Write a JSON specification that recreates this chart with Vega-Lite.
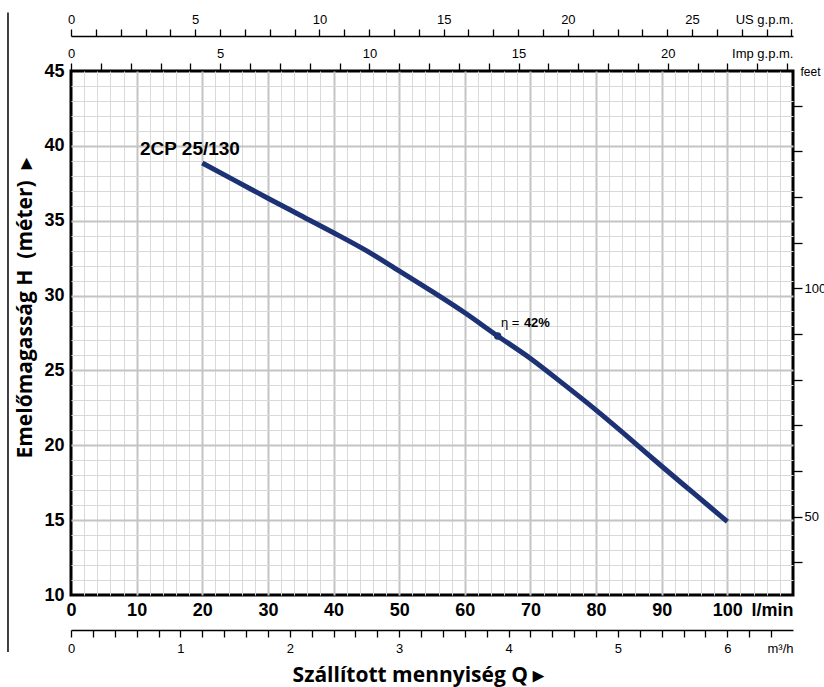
{
  "$schema": "https://vega.github.io/schema/vega-lite/v6.json",
  "width": 722,
  "height": 524,
  "autosize": {"type": "none"},
  "padding": {"left": 71, "top": 71, "right": 31, "bottom": 92},
  "background": "white",
  "config": {
    "view": {"stroke": "black", "strokeWidth": 3},
    "font": "Liberation Sans, Arial, sans-serif"
  },
  "resolve": {
    "scale": {"x": "independent", "y": "independent"},
    "axis": {"x": "independent", "y": "independent"}
  },
  "layer": [
    {
      "layer": [
        {
          "data": {"values": [
            {"q": 20, "h": 38.85}, {"q": 25, "h": 37.68}, {"q": 30, "h": 36.5},
            {"q": 35, "h": 35.35}, {"q": 40, "h": 34.2}, {"q": 45, "h": 33.0},
            {"q": 50, "h": 31.65}, {"q": 55, "h": 30.28}, {"q": 60, "h": 28.85},
            {"q": 65, "h": 27.3}, {"q": 70, "h": 25.8}, {"q": 75, "h": 24.1},
            {"q": 80, "h": 22.35}, {"q": 85, "h": 20.5}, {"q": 90, "h": 18.6},
            {"q": 95, "h": 16.75}, {"q": 100, "h": 14.9}
          ]},
          "mark": {"type": "line", "color": "#1d3275", "strokeWidth": 5, "interpolate": "monotone", "strokeCap": "butt"},
          "encoding": {
            "x": {
              "field": "q", "type": "quantitative",
              "scale": {"domain": [0, 110], "nice": false, "zero": false},
              "axis": {
                "orient": "bottom", "tickCount": 500, "tickMinStep": 0.001,
                "values": [0,2,4,6,8,10,12,14,16,18,20,22,24,26,28,30,32,34,36,38,40,42,44,46,48,50,52,54,56,58,60,62,64,66,68,70,72,74,76,78,80,82,84,86,88,90,92,94,96,98,100,102,104,106,108,110],
                "domain": false, "ticks": false, "grid": true,
                "gridColor": {"condition": {"test": "datum.value % 10 == 0", "value": "#c4c4c4"}, "value": "#d9d9d9"},
                "gridWidth": {"condition": {"test": "datum.value % 10 == 0", "value": 2}, "value": 1},
                "gridOpacity": {"condition": {"test": "datum.value == 0 || datum.value == 110", "value": 0}, "value": 1},
                "labelExpr": "datum.value == 110 ? 'l/min' : (datum.value % 10 == 0 ? format(datum.value, 'd') : '')",
                "labelAlign": {"condition": {"test": "datum.value == 110", "value": "right"}, "value": "center"},
                "labelFontWeight": "bold", "labelFontSize": 18, "labelColor": "black",
                "labelPadding": 6, "labelOverlap": false, "labelBound": false, "labelFlush": false,
                "title": null
              }
            },
            "y": {
              "field": "h", "type": "quantitative",
              "scale": {"domain": [10, 45], "nice": false, "zero": false},
              "axis": {
                "orient": "left", "tickCount": 500, "tickMinStep": 0.001,
                "values": [10,11,12,13,14,15,16,17,18,19,20,21,22,23,24,25,26,27,28,29,30,31,32,33,34,35,36,37,38,39,40,41,42,43,44,45],
                "domain": false, "ticks": false, "grid": true,
                "gridColor": {"condition": {"test": "datum.value % 5 == 0", "value": "#c4c4c4"}, "value": "#d9d9d9"},
                "gridWidth": {"condition": {"test": "datum.value % 5 == 0", "value": 2}, "value": 1},
                "gridOpacity": {"condition": {"test": "datum.value == 10 || datum.value == 45", "value": 0}, "value": 1},
                "labelExpr": "datum.value % 5 == 0 ? format(datum.value, 'd') : ''",
                "labelFontWeight": "bold", "labelFontSize": 18, "labelColor": "black",
                "labelPadding": 7, "labelOverlap": false, "labelBound": false,
                "title": "Emelőmagasság H\u00a0 (méter)\u00a0 ▸",
                "titleFont": "Open Sans", "titleFontSize": 21, "titleFontWeight": "bold", "titleColor": "black",
                "titleX": -36, "titleY": 237, "titleBaseline": "bottom"
              }
            }
          }
        },
        {
          "data": {"values": [{"q": 65, "h": 27.3}]},
          "mark": {"type": "point", "filled": true, "color": "#1d3275", "size": 55, "opacity": 1},
          "encoding": {
            "x": {"field": "q", "type": "quantitative"},
            "y": {"field": "h", "type": "quantitative"}
          }
        },
        {
          "data": {"values": [
            {"q": 10.5, "h": 39.8, "label": "2CP 25/130"}
          ]},
          "mark": {"type": "text", "align": "left", "baseline": "middle", "fontSize": 19, "fontWeight": "bold", "color": "black"},
          "encoding": {
            "x": {"field": "q", "type": "quantitative"},
            "y": {"field": "h", "type": "quantitative"},
            "text": {"field": "label"}
          }
        },
        {
          "data": {"values": [
            {"q": 65.5, "h": 28.2, "label": "η ="}
          ]},
          "mark": {"type": "text", "align": "left", "baseline": "middle", "fontSize": 13, "fontWeight": "normal", "color": "black"},
          "encoding": {
            "x": {"field": "q", "type": "quantitative"},
            "y": {"field": "h", "type": "quantitative"},
            "text": {"field": "label"}
          }
        },
        {
          "data": {"values": [
            {"q": 69.0, "h": 28.2, "label": "42%"}
          ]},
          "mark": {"type": "text", "align": "left", "baseline": "middle", "fontSize": 13, "fontWeight": "bold", "color": "black"},
          "encoding": {
            "x": {"field": "q", "type": "quantitative"},
            "y": {"field": "h", "type": "quantitative"},
            "text": {"field": "label"}
          }
        },
        {
          "data": {"values": [{"q": -9.6, "h": 48.9, "h2": 6.2}]},
          "mark": {"type": "rule", "color": "black", "strokeWidth": 1.5},
          "encoding": {
            "x": {"field": "q", "type": "quantitative"},
            "y": {"field": "h", "type": "quantitative"},
            "y2": {"field": "h2"}
          }
        }
      ]
    },
    {
      "data": {"values": [{"us": 0}]},
      "mark": {"type": "point", "opacity": 0},
      "encoding": {
        "x": {
          "field": "us", "type": "quantitative",
          "scale": {"domain": [0, 29.0619], "nice": false, "zero": false},
          "axis": {
            "orient": "top", "offset": 35, "tickCount": 500, "tickMinStep": 0.001,
            "values": [0,1,2,3,4,5,6,7,8,9,10,11,12,13,14,15,16,17,18,19,20,21,22,23,24,25,26,27,28,29,29.0619],
            "domain": true, "domainColor": "black", "domainWidth": 1.3,
            "ticks": true, "tickColor": "black", "tickWidth": 1.3, "tickSize": 7,
            "tickOpacity": {"condition": {"test": "datum.value > 29.01", "value": 0}, "value": 1},
            "grid": false,
            "labelExpr": "datum.value > 29.01 ? 'US g.p.m.' : (datum.value % 5 == 0 ? format(datum.value, 'd') : '')",
            "labelAlign": {"condition": {"test": "datum.value > 29.01", "value": "right"}, "value": "center"},
            "labelFontSize": 13, "labelColor": "black", "labelPadding": 3,
            "labelOverlap": false, "labelBound": false, "labelFlush": false,
            "title": null
          }
        }
      }
    },
    {
      "data": {"values": [{"imp": 0}]},
      "mark": {"type": "point", "opacity": 0},
      "encoding": {
        "x": {
          "field": "imp", "type": "quantitative",
          "scale": {"domain": [0, 24.1966], "nice": false, "zero": false},
          "axis": {
            "orient": "top", "offset": 0, "tickCount": 500, "tickMinStep": 0.001,
            "values": [0,1,2,3,4,5,6,7,8,9,10,11,12,13,14,15,16,17,18,19,20,21,22,23,24,24.1966],
            "domain": false,
            "ticks": true, "tickColor": "black", "tickWidth": 1.3, "tickSize": 8,
            "tickOpacity": {"condition": {"test": "datum.value > 24.1", "value": 0}, "value": 1},
            "grid": false,
            "labelExpr": "datum.value > 24.1 ? 'Imp g.p.m.' : (datum.value % 5 == 0 ? format(datum.value, 'd') : '')",
            "labelAlign": {"condition": {"test": "datum.value > 24.1", "value": "right"}, "value": "center"},
            "labelFontSize": 13, "labelColor": "black", "labelPadding": 3,
            "labelOverlap": false, "labelBound": false, "labelFlush": false,
            "title": null
          }
        }
      }
    },
    {
      "data": {"values": [{"m3h": 0}]},
      "mark": {"type": "point", "opacity": 0},
      "encoding": {
        "x": {
          "field": "m3h", "type": "quantitative",
          "scale": {"domain": [0, 6.6], "nice": false, "zero": false},
          "axis": {
            "orient": "bottom", "offset": 35, "tickCount": 500, "tickMinStep": 0.001,
            "values": [0,0.2,0.4,0.6,0.8,1,1.2,1.4,1.6,1.8,2,2.2,2.4,2.6,2.8,3,3.2,3.4,3.6,3.8,4,4.2,4.4,4.6,4.8,5,5.2,5.4,5.6,5.8,6,6.2,6.4,6.6],
            "domain": true, "domainColor": "black", "domainWidth": 1.3,
            "ticks": true, "tickColor": "black", "tickWidth": 1.3, "tickSize": 7,
            "tickOpacity": {"condition": {"test": "datum.value > 6.5", "value": 0}, "value": 1},
            "grid": false,
            "labelExpr": "datum.value > 6.5 ? 'm³/h' : (abs(datum.value - round(datum.value)) < 0.001 ? format(datum.value, 'd') : '')",
            "labelAlign": {"condition": {"test": "datum.value > 6.5", "value": "right"}, "value": "center"},
            "labelFontSize": 13, "labelColor": "black", "labelPadding": 5,
            "labelOverlap": false, "labelBound": false, "labelFlush": false,
            "title": "Szállított mennyiség Q ▸",
            "titleFont": "Open Sans", "titleFontSize": 21, "titleFontWeight": "bold", "titleColor": "black",
            "titleX": 347, "titlePadding": 9
          }
        }
      }
    },
    {
      "data": {"values": [{"ft": 50}]},
      "mark": {"type": "point", "opacity": 0},
      "encoding": {
        "y": {
          "field": "ft", "type": "quantitative",
          "scale": {"domain": [32.8084, 147.6378], "nice": false, "zero": false},
          "axis": {
            "orient": "right", "offset": 0, "tickCount": 500, "tickMinStep": 0.001,
            "values": [40,50,60,70,80,90,100,110,120,130,140,147.6378],
            "domain": false,
            "ticks": true, "tickColor": "black", "tickWidth": 1.3, "tickSize": 9,
            "tickOpacity": {"condition": {"test": "datum.value > 147", "value": 0}, "value": 1},
            "grid": false,
            "labelExpr": "datum.value > 147 ? 'feet' : ((datum.value == 50 || datum.value == 100) ? format(datum.value, 'd') : '')",
            "labelFontSize": {"condition": {"test": "datum.value > 147", "value": 12}, "value": 13},
            "labelPadding": {"condition": {"test": "datum.value > 147", "value": -2}, "value": 2},
            "labelColor": "black",
            "labelOverlap": false, "labelBound": false, "labelFlush": false,
            "title": null
          }
        }
      }
    }
  ]
}
